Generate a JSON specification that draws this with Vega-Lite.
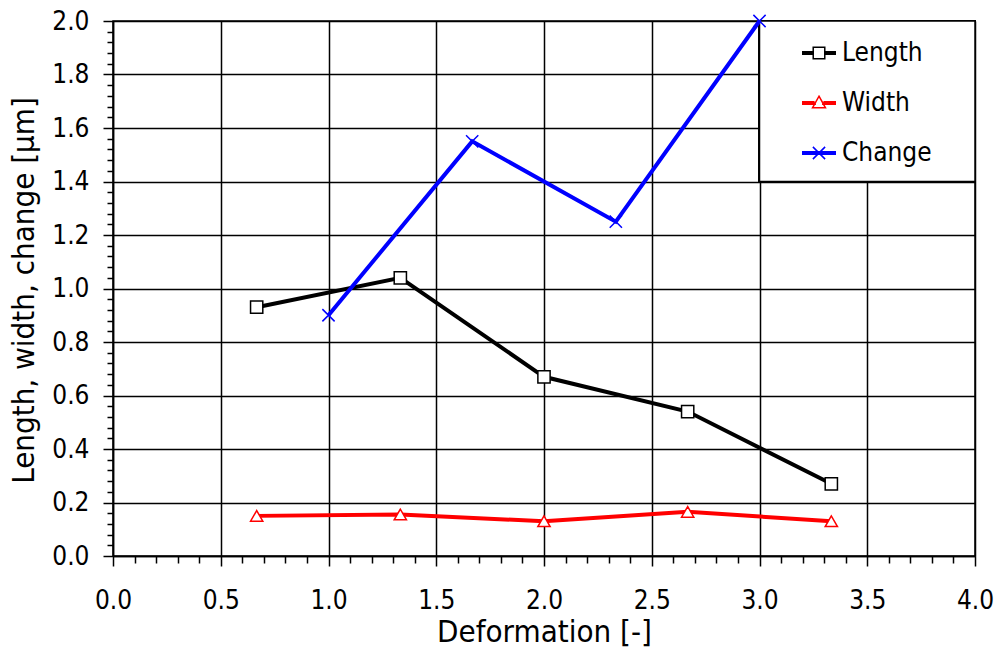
{
  "$schema": "https://vega.github.io/schema/vega-lite/v6.json",
  "autosize": "none",
  "width": 862,
  "height": 535,
  "padding": {"left": 113, "top": 21, "right": 25, "bottom": 99},
  "background": "white",
  "config": {
    "font": "DejaVu Sans Condensed",
    "view": {"stroke": "black", "strokeWidth": 1.5},
    "axis": {
      "labelFont": "DejaVu Sans Condensed",
      "titleFont": "DejaVu Sans Condensed",
      "labelColor": "black",
      "titleColor": "black",
      "titleFontWeight": "normal",
      "domainColor": "black",
      "tickColor": "black",
      "gridColor": "black"
    },
    "legend": {
      "labelFont": "DejaVu Sans Condensed",
      "labelColor": "black"
    }
  },
  "data": {
    "values": [
      {"series": "Length", "x": 0.6667, "y": 0.93},
      {"series": "Length", "x": 1.3333, "y": 1.04},
      {"series": "Length", "x": 2.0, "y": 0.67},
      {"series": "Length", "x": 2.6667, "y": 0.54},
      {"series": "Length", "x": 3.3333, "y": 0.27},
      {"series": "Width", "x": 0.6667, "y": 0.15},
      {"series": "Width", "x": 1.3333, "y": 0.155},
      {"series": "Width", "x": 2.0, "y": 0.13},
      {"series": "Width", "x": 2.6667, "y": 0.165},
      {"series": "Width", "x": 3.3333, "y": 0.13},
      {"series": "Change", "x": 1.0, "y": 0.9},
      {"series": "Change", "x": 1.6667, "y": 1.55},
      {"series": "Change", "x": 2.3333, "y": 1.25},
      {"series": "Change", "x": 3.0, "y": 2.0}
    ]
  },
  "resolve": {"axis": {"x": "independent", "y": "independent"}},
  "layer": [
    {
      "mark": {"type": "rect", "fill": "white", "stroke": "black", "strokeWidth": 1.5},
      "encoding": {
        "x": {"datum": 3.0, "type": "quantitative", "axis": null, "scale": {"domain": [0, 4], "nice": false}},
        "x2": {"datum": 4.0},
        "y": {"datum": 1.4, "type": "quantitative", "axis": null, "scale": {"domain": [0, 2], "nice": false}},
        "y2": {"datum": 2.0}
      }
    },
    {
      "mark": {"type": "line", "strokeWidth": 4},
      "encoding": {
        "x": {
          "field": "x", "type": "quantitative",
          "axis": {
            "title": "Deformation [-]",
            "titleFontSize": 31,
            "titlePadding": 4,
            "values": [0, 0.5, 1, 1.5, 2, 2.5, 3, 3.5, 4],
            "format": ".1f",
            "labelFontSize": 26,
            "labelPadding": 21,
            "labelFlush": false,
            "labelOverlap": false,
            "tickSize": 10,
            "tickWidth": 1.5,
            "domainWidth": 1.5,
            "grid": true,
            "gridWidth": 1.5
          }
        },
        "y": {
          "field": "y", "type": "quantitative",
          "axis": {
            "title": "Length, width, change [µm]",
            "titleFontSize": 31,
            "titleAngle": -90,
            "titleAlign": "center",
            "titleBaseline": "alphabetic",
            "titleX": -80,
            "titleY": 269,
            "values": [0, 0.2, 0.4, 0.6, 0.8, 1.0, 1.2, 1.4, 1.6, 1.8, 2.0],
            "format": ".1f",
            "labelFontSize": 26,
            "labelPadding": 14,
            "labelFlush": false,
            "labelOverlap": false,
            "tickSize": 10,
            "tickWidth": 1.5,
            "domainWidth": 1.5,
            "grid": true,
            "gridWidth": 1.5
          }
        },
        "color": {
          "field": "series", "type": "nominal",
          "sort": ["Length", "Width", "Change"],
          "scale": {"range": ["black", "red", "blue"]},
          "legend": {
            "orient": "none",
            "legendX": 688,
            "legendY": 14,
            "title": null,
            "padding": 0,
            "symbolSize": 1156,
            "symbolStrokeWidth": 1.5,
            "labelFontSize": 26,
            "labelOffset": 5,
            "rowPadding": 19,
            "encode": {
              "symbols": {
                "update": {
                  "shape": {"signal": "datum.value === 'Length' ? 'M-1,-0.07H-0.36M-1,0H-0.36M-1,0.07H-0.36M0.36,-0.07H1M0.36,0H1M0.36,0.07H1M-0.34,-0.34H0.34V0.34H-0.34Z' : datum.value === 'Width' ? 'M-1,-0.07H-0.26M-1,0H-0.22M-1,0.07H-0.18M0.26,-0.07H1M0.22,0H1M0.18,0.07H1M0,-0.4L0.38,0.28L-0.38,0.28Z' : 'M-1,-0.07H1M-1,0H1M-1,0.07H1M-0.36,-0.36L0.36,0.36M-0.36,0.36L0.36,-0.36'"},
                  "size": {"value": 1156},
                  "fill": {"value": "white"},
                  "fillOpacity": {"value": 1},
                  "opacity": {"value": 1},
                  "stroke": {"scale": "color", "field": "value"},
                  "strokeWidth": {"value": 1.5}
                }
              }
            }
          }
        }
      }
    },
    {
      "mark": {"type": "point", "filled": false, "fill": "white", "fillOpacity": 1, "opacity": 1, "strokeWidth": 1.5, "size": 150},
      "encoding": {
        "x": {
          "field": "x", "type": "quantitative",
          "axis": {
            "orient": "bottom",
            "title": null,
            "values": [0.1, 0.2, 0.3, 0.4, 0.6, 0.7, 0.8, 0.9, 1.1, 1.2, 1.3, 1.4, 1.6, 1.7, 1.8, 1.9, 2.1, 2.2, 2.3, 2.4, 2.6, 2.7, 2.8, 2.9, 3.1, 3.2, 3.3, 3.4, 3.6, 3.7, 3.8, 3.9],
            "labels": false,
            "grid": false,
            "domain": false,
            "tickSize": 7,
            "tickWidth": 1.5
          }
        },
        "y": {
          "field": "y", "type": "quantitative",
          "axis": {
            "orient": "left",
            "title": null,
            "values": [0.04, 0.08, 0.12, 0.16, 0.24, 0.28, 0.32, 0.36, 0.44, 0.48, 0.52, 0.56, 0.64, 0.68, 0.72, 0.76, 0.84, 0.88, 0.92, 0.96, 1.04, 1.08, 1.12, 1.16, 1.24, 1.28, 1.32, 1.36, 1.44, 1.48, 1.52, 1.56, 1.64, 1.68, 1.72, 1.76, 1.84, 1.88, 1.92, 1.96],
            "labels": false,
            "grid": false,
            "domain": false,
            "tickSize": 6,
            "tickWidth": 1.5
          }
        },
        "color": {"field": "series", "type": "nominal", "sort": ["Length", "Width", "Change"]},
        "shape": {
          "field": "series", "type": "nominal",
          "scale": {
            "domain": ["Length", "Width", "Change"],
            "range": ["square", "triangle-up", "M-1,-1L1,1M-1,1L1,-1"]
          },
          "legend": null
        }
      }
    }
  ]
}
